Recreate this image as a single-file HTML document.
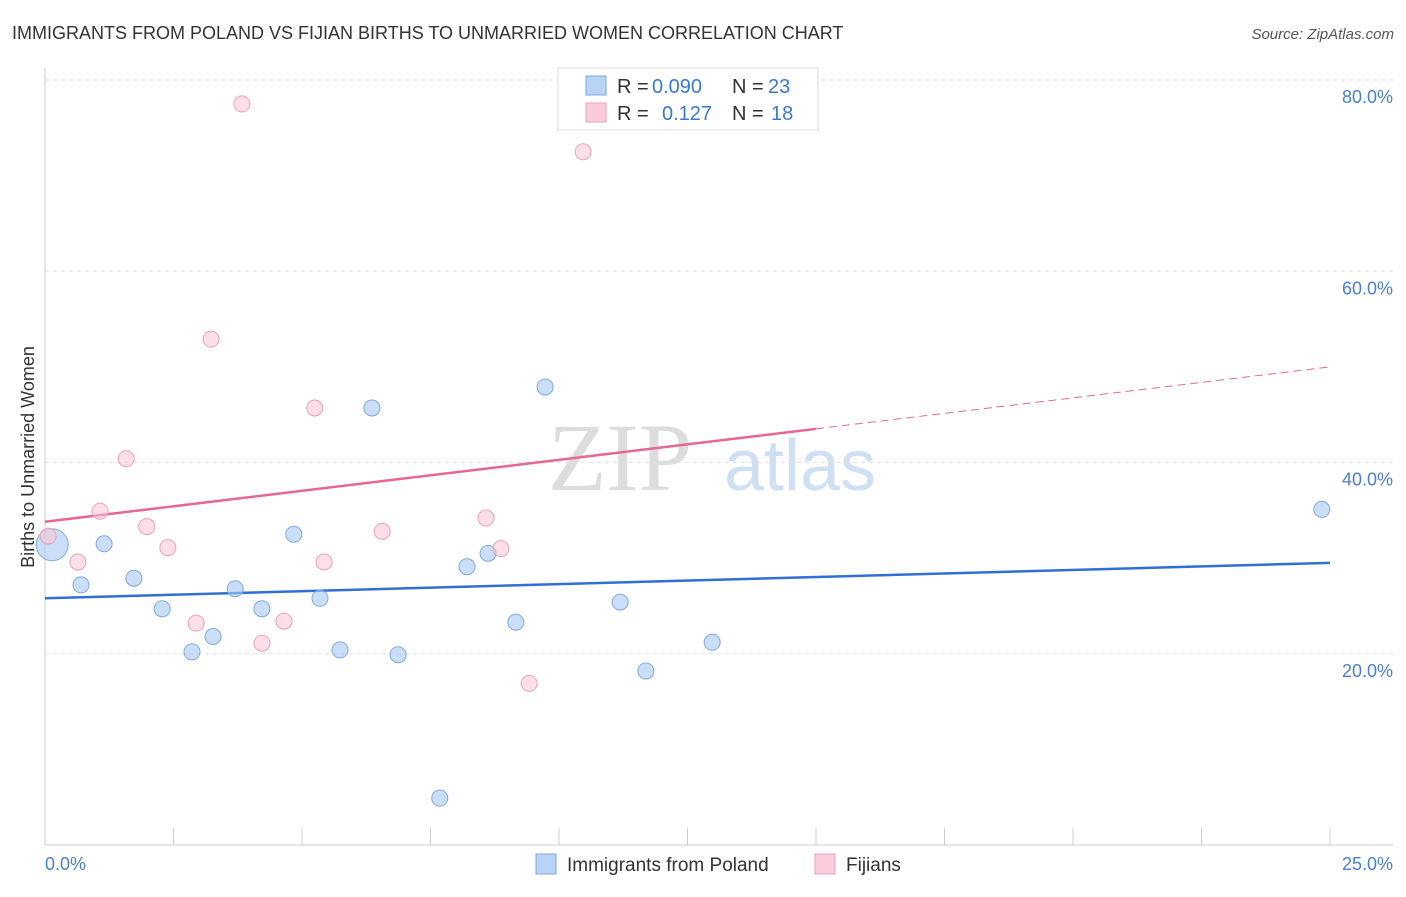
<!DOCTYPE html>
<html><head><meta charset="utf-8"><style>
body{margin:0;background:#fff;font-family:"Liberation Sans",sans-serif;}
</style></head><body>
<svg width="1406" height="892" xmlns="http://www.w3.org/2000/svg" font-family="Liberation Sans, sans-serif">
<text x="12" y="39" font-size="18" fill="#333">IMMIGRANTS FROM POLAND VS FIJIAN BIRTHS TO UNMARRIED WOMEN CORRELATION CHART</text>
<text x="1394" y="39" font-size="15" fill="#555" font-style="italic" text-anchor="end">Source: ZipAtlas.com</text>
<text x="620" y="490" font-size="96" fill="#ddd" font-family="Liberation Serif, serif" text-anchor="middle">ZIP</text>
<text x="800" y="490" font-size="72" fill="#cfe0f5" text-anchor="middle">atlas</text>
<g id="grid"></g>
<g id="axes"></g>
<g id="lines"></g>
<g id="pts"></g>
<text transform="translate(34,457) rotate(-90)" font-size="18" fill="#333" text-anchor="middle">Births to Unmarried Women</text>
<text x="45" y="870" font-size="18" fill="#4a7fd0">0.0%</text>
<text x="1393" y="870" font-size="18" fill="#4a7fd0" text-anchor="end">25.0%</text>
<g font-size="20">
<rect x="558" y="68" width="260" height="62" fill="#fff" stroke="#ddd"/>
<rect x="586" y="76" width="20" height="19" fill="#b8d3f5" stroke="#7fa9e0"/>
<rect x="586" y="103" width="20" height="19" fill="#fbcbd9" stroke="#eea0b8"/>
<text x="617" y="93" fill="#333">R =</text>
<text x="652" y="93" fill="#3a78d8">0.090</text>
<text x="732" y="93" fill="#333">N =</text>
<text x="768" y="93" fill="#3a78d8">23</text>
<text x="617" y="120" fill="#333">R =</text>
<text x="662" y="120" fill="#3a78d8">0.127</text>
<text x="732" y="120" fill="#333">N =</text>
<text x="771" y="120" fill="#3a78d8">18</text>
</g>
<g>
<rect x="536" y="854" width="20" height="20" fill="#b8d3f5" stroke="#7fa9e0"/>
<text x="567" y="871" font-size="19" fill="#333">Immigrants from Poland</text>
<rect x="815" y="854" width="20" height="20" fill="#fbcbd9" stroke="#eea0b8"/>
<text x="846" y="871" font-size="19" fill="#333">Fijians</text>
</g>
</svg>
<script>
const yTicks=[20,40,60,80];
const xTicks=[0,2.5,5,7.5,10,12.5,15,17.5,20,22.5,25];
const polandX=[0.14,0.70,1.15,1.73,2.28,2.86,3.27,3.70,4.22,4.84,5.35,5.74,6.36,6.87,7.68,8.21,8.62,9.16,9.73,11.19,11.69,12.98,24.84];
const polandY=[31.4,27.2,31.5,27.9,24.7,20.2,21.8,26.8,24.7,32.5,25.8,20.4,45.7,19.9,4.9,29.1,30.5,23.3,47.9,25.4,18.2,21.2,35.1];
const fijiX=[0.06,0.64,1.07,1.58,1.98,2.39,2.94,3.23,3.83,4.22,4.65,5.25,5.43,6.56,8.58,8.87,9.42,10.47];
const fijiY=[32.3,29.6,34.9,40.4,33.3,31.1,23.2,52.9,77.5,21.1,23.4,45.7,29.6,32.8,34.2,31.0,16.9,72.5];
const polandTrend=[25.8,29.5];
const fijiTrend=[33.8,50.0];
const fijiSolidEnd=15.0;
const NS='http://www.w3.org/2000/svg';
const X=v=>45+v/25*1285, Y=v=>845-v*9.5625;
function mk(t,a,p){const e=document.createElementNS(NS,t);for(const k in a)e.setAttribute(k,a[k]);document.getElementById(p).appendChild(e);return e;}
yTicks.forEach(t=>{
 const l=mk('line',{x1:45,x2:1393,y1:Y(t),y2:Y(t),stroke:'#e0e0e0','stroke-dasharray':'4,4'},'grid');
 
 
 const tx=mk('text',{x:1393,y:Y(t)+23,'font-size':18,fill:'#4a7fd0','text-anchor':'end'},'grid');
 tx.textContent=t.toFixed(1)+'%';
 
 
});
const ax=mk('line',{x1:45,x2:45,y1:68,y2:845,stroke:'#ccc'},'axes');


const bx=mk('line',{x1:45,x2:1393,y1:845,y2:845,stroke:'#ccc'},'axes');


xTicks.forEach(t=>{if(t===0)return;
 const l=mk('line',{x1:X(t),x2:X(t),y1:828,y2:845,stroke:'#ccc'},'axes');
 
 
});
const bl=mk('line',{x1:X(0),x2:X(25),y1:Y(polandTrend[0]),y2:Y(polandTrend[1]),stroke:'#2f6fd6','stroke-width':2.5},'lines');


const fm=fijiTrend[0]+(fijiTrend[1]-fijiTrend[0])*fijiSolidEnd/25;
const pl=mk('line',{x1:X(0),x2:X(fijiSolidEnd),y1:Y(fijiTrend[0]),y2:Y(fm),stroke:'#e8678f','stroke-width':2.5},'lines');


const pd=mk('line',{x1:X(fijiSolidEnd),x2:X(25),y1:Y(fm),y2:Y(fijiTrend[1]),stroke:'#e8678f','stroke-width':1,'stroke-dasharray':'8,5'},'lines');


polandX.forEach((x,i)=>{
 const c=mk('circle',{cx:X(x),cy:Y(polandY[i]),r:i===0?16:8,fill:'rgba(168,200,242,0.6)',stroke:'#7fa9e0','stroke-width':1},'pts');
 
 
});
fijiX.forEach((x,i)=>{
 const c=mk('circle',{cx:X(x),cy:Y(fijiY[i]),r:8,fill:'rgba(250,196,212,0.55)',stroke:'#eea0b8','stroke-width':1},'pts');
 
 
});
</script>
</body></html>
